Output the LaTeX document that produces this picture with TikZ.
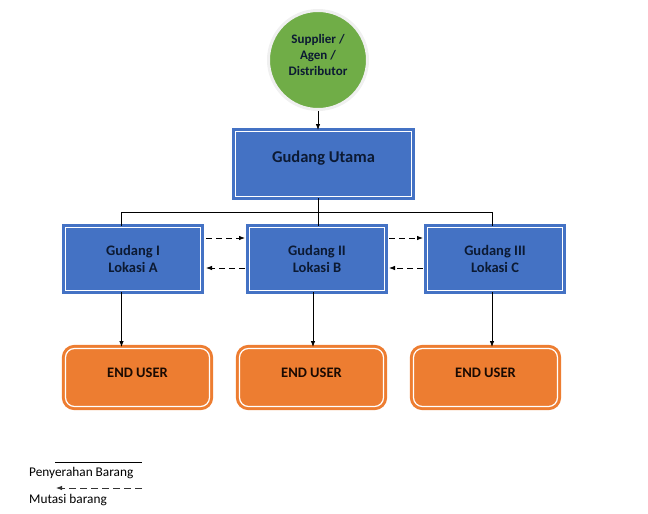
\documentclass[tikz,border=0pt]{standalone}
\usepackage{fontspec}
\setmainfont{Carlito}
\usetikzlibrary{arrows.meta}
\definecolor{boxblue}{HTML}{4472C4}
\definecolor{boxorange}{HTML}{ED7D31}
\definecolor{circgreen}{HTML}{70AD47}
\definecolor{navytext}{HTML}{0C1A33}
\definecolor{browntext}{HTML}{1A0A02}
\begin{document}
\begin{tikzpicture}[x=1pt,y=-1pt,
    gudang/.style={rectangle,fill=boxblue,draw=boxblue,line width=3pt,
      double=white,double distance=1.2pt,text=navytext,align=center,
      font=\bfseries\fontsize{14.5}{17}\selectfont,inner sep=0pt},
    enduser/.style={rectangle,rounded corners=9pt,fill=boxorange,draw=boxorange,
      line width=3pt,double=white,double distance=1.2pt,text=browntext,
      font=\bfseries\fontsize{14.5}{17}\selectfont,inner sep=0pt,text depth=10pt,
      minimum width=144pt,minimum height=58pt},
    kirim/.style={-{Latex[length=6pt,width=4.5pt]},line width=0.8pt},
    mutasi/.style={-{Latex[length=6pt,width=4.5pt]},line width=0.8pt,
      dash pattern=on 6pt off 4pt}]
  \useasboundingbox (0,0) rectangle (648,514);
  \draw
    (318,60) node[circle,fill=circgreen,draw=gray!12,line width=3pt,
      minimum size=99pt,align=center,text=navytext,text depth=10pt,
      font=\bfseries\fontsize{13}{16}\selectfont] (sup){Supplier /\\Agen /\\Distributor}
    (323.5,164) node[gudang,minimum width=176pt,minimum height=65pt,text depth=15pt,
      font=\bfseries\fontsize{16.5}{19}\selectfont] (utama){Gudang Utama}
    (133,259) node[gudang,minimum width=135pt,minimum height=63pt] (g1){Gudang I\\Lokasi A}
    (317,259) node[gudang,minimum width=135pt,minimum height=63pt] (g2){Gudang II\\Lokasi B}
    (495,259) node[gudang,minimum width=135pt,minimum height=63pt] (g3){Gudang III\\Lokasi C}
    (137.5,377.5) node[enduser] (eu1){END USER}
    (311.5,377.5) node[enduser] (eu2){END USER}
    (485.5,377.5) node[enduser] (eu3){END USER};
  \coordinate (b1) at (121.5,212);
  \coordinate (b2) at (318,212);
  \coordinate (b3) at (492,212);
  \coordinate (d2) at (313,212);
  % penyerahan barang
  \begin{scope}[line width=0.8pt]
    \draw[kirim] (sup.south) -- (sup.south |- utama.north);
    \draw (b2 |- utama.south) -- (b2);
    \draw (b1 |- g1.north) -- (b1) -- (b3) -- (b3 |- g3.north);
    \draw (b2) -- (b2 |- g2.north);
    \draw[kirim] (b1 |- g1.south) -- (b1 |- eu1.north);
    \draw[kirim] (d2 |- g2.south) -- (d2 |- eu2.north);
    \draw[kirim] (b3 |- g3.south) -- (b3 |- eu3.north);
  \end{scope}
  % mutasi barang
  \draw[mutasi] ([xshift=4pt,yshift=21pt]g1.east) -- ([xshift=-3pt,yshift=21pt]g2.west);
  \draw[mutasi] ([xshift=-3pt,yshift=-9pt]g2.west) -- ([xshift=4pt,yshift=-9pt]g1.east);
  \draw[mutasi] ([xshift=3pt,yshift=21pt]g2.east) -- ([xshift=-3pt,yshift=21pt]g3.west);
  \draw[mutasi] ([xshift=-3pt,yshift=-9pt]g3.west) -- ([xshift=3pt,yshift=-9pt]g2.east);
  % keterangan
  \coordinate (k1a) at (55,462);
  \coordinate (k1b) at (142,462);
  \coordinate (k2a) at (142,488);
  \coordinate (k2b) at (56,488);
  \draw[line width=0.8pt] (k1a) -- (k1b);
  \draw[mutasi,dash pattern=on 7pt off 4pt,black!80] (k2a) -- (k2b);
  \node[anchor=west,inner sep=0pt,font=\fontsize{13.3}{15}\selectfont] (leg1) at (29,473) {Penyerahan Barang};
  \node[anchor=west,inner sep=0pt,font=\fontsize{13.3}{15}\selectfont] (leg2) at (29,500) {Mutasi barang};
\end{tikzpicture}
\end{document}
